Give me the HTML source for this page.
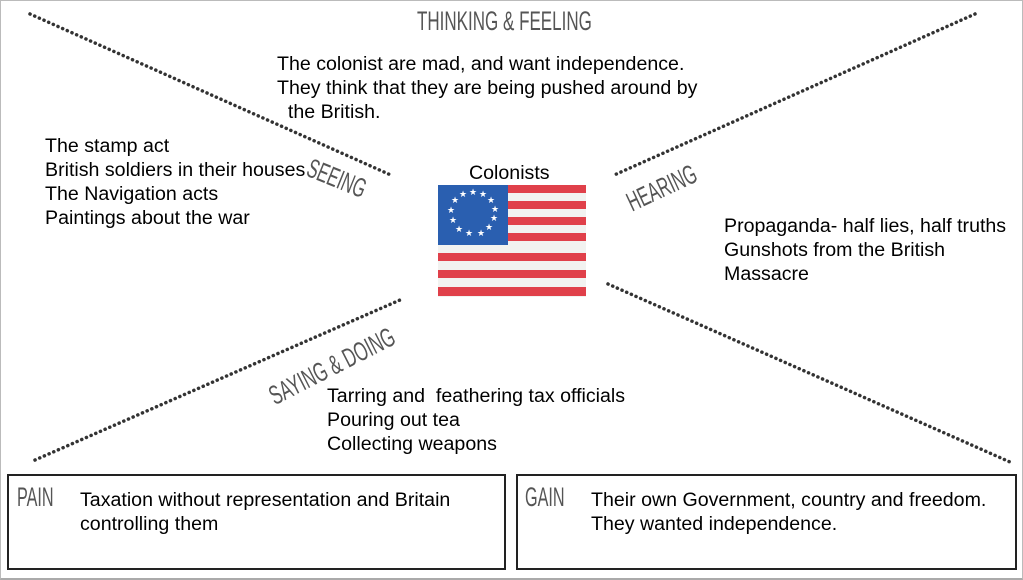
<!DOCTYPE html>
<html><head><style>
body{margin:0;width:1023px;height:579px;overflow:hidden;background:#fff;font-family:"Liberation Sans",sans-serif;}
.t{position:absolute;font-size:19.6px;line-height:24px;color:#000;white-space:nowrap;}
.h{position:absolute;font-family:"Liberation Sans",sans-serif;color:#555;font-size:27px;white-space:nowrap;transform-origin:left top;}
</style></head><body>
<div style="position:absolute;left:0;top:0;width:1021px;height:577px;border:1px solid #bbb;border-bottom:2px solid #aaa;"></div>
<svg width="1023" height="579" style="position:absolute;left:0;top:0">
<g stroke="#333" stroke-width="3.5" stroke-dasharray="0.1 5" stroke-linecap="round">
<line x1="30" y1="14" x2="393" y2="176"/>
<line x1="975" y1="14" x2="612" y2="176"/>
<line x1="35" y1="460" x2="400" y2="300"/>
<line x1="608" y1="284" x2="1010" y2="462"/>
</g>
<rect x="8" y="475" width="497" height="94" fill="none" stroke="#222" stroke-width="2"/>
<rect x="517" y="475" width="499" height="94" fill="none" stroke="#222" stroke-width="2"/>
<g>
<rect x="438" y="185" width="148" height="112" fill="#f2f2f0"/>
<rect x="438" y="185" width="148" height="8" fill="#e0404a"/>
<rect x="438" y="201" width="148" height="8" fill="#e0404a"/>
<rect x="438" y="217" width="148" height="8" fill="#e0404a"/>
<rect x="438" y="233" width="148" height="8" fill="#e0404a"/>
<rect x="438" y="253" width="148" height="8" fill="#e0404a"/>
<rect x="438" y="270" width="148" height="8" fill="#e0404a"/>
<rect x="438" y="287" width="148" height="9" fill="#e0404a"/>
<rect x="438" y="185" width="70" height="60" fill="#2a5fb0"/>
<g fill="#fff" font-size="9" text-anchor="middle">
<text x="473" y="195">★</text><text x="483" y="197">★</text><text x="491" y="203">★</text><text x="495" y="212">★</text><text x="494" y="221">★</text><text x="489" y="230">★</text><text x="481" y="236">★</text><text x="469" y="236">★</text><text x="459" y="232">★</text><text x="453" y="223">★</text><text x="451" y="213">★</text><text x="455" y="203">★</text><text x="463" y="197">★</text>
</g>
</g>
</svg>
<div class="h" style="left:417px;top:6px;transform:scaleX(0.63);">THINKING &amp; FEELING</div>
<div class="h" style="left:314px;top:153px;transform:rotate(22deg) scaleX(0.6);">SEEING</div>
<div class="h" style="left:622px;top:190px;transform:rotate(-25deg) scaleX(0.6);">HEARING</div>
<div class="h" style="left:264px;top:384px;transform:rotate(-27deg) scaleX(0.62);">SAYING &amp; DOING</div>
<div class="h" style="left:17px;top:482px;transform:scaleX(0.6);">PAIN</div>
<div class="h" style="left:525px;top:482px;transform:scaleX(0.6);">GAIN</div>
<div class="t" style="left:277px;top:52px;">The colonist are mad, and want independence.<br>They think that they are being pushed around by<br>&nbsp;&nbsp;the British.</div>
<div class="t" style="left:45px;top:134px;">The stamp act<br>British soldiers in their houses<br>The Navigation acts<br>Paintings about the war</div>
<div class="t" style="left:469px;top:161px;">Colonists</div>
<div class="t" style="left:724px;top:214px;">Propaganda- half lies, half truths<br>Gunshots from the British<br>Massacre</div>
<div class="t" style="left:327px;top:384px;">Tarring and &nbsp;feathering tax officials<br>Pouring out tea<br>Collecting weapons</div>
<div class="t" style="left:80px;top:488px;">Taxation without representation and Britain<br>controlling them</div>
<div class="t" style="left:591px;top:488px;">Their own Government, country and freedom.<br>They wanted independence.</div>
</body></html>
